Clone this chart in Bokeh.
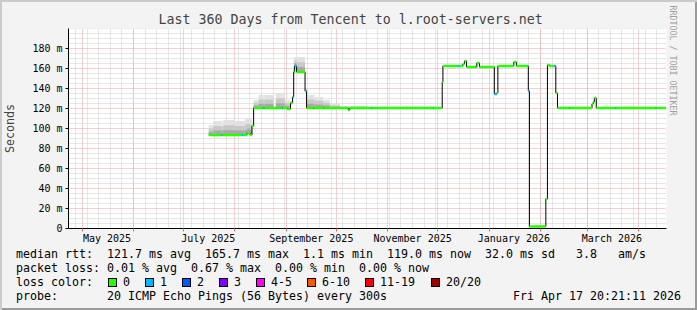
import numpy as np
import pandas as pd
from bokeh.plotting import figure
from bokeh.layouts import column
from bokeh.models import Range1d, FixedTicker, CustomJSTickFormatter, Title, Div
from bokeh.embed import file_html
from bokeh.resources import INLINE

FONT = "DejaVu Sans Mono"

# ---------------- data ----------------
title_text = "Last 360 Days from Tencent to l.root-servers.net"
t_start = "2025-04-22 20:21:11"
t_end = "2026-04-17 20:21:11"

# median rtt (ms) as steps: start of each step, value, loss bin index
median_start = [
    "2025-07-16 07:00", "2025-07-24 00:00", "2025-07-24 14:00", "2025-08-05 06:00", "2025-08-05 20:00",
    "2025-08-08 07:00", "2025-08-10 03:00", "2025-08-11 07:00", "2025-08-12 07:00", "2025-08-18 06:00",
    "2025-08-18 20:00", "2025-08-29 06:00", "2025-08-29 20:00", "2025-09-01 12:00", "2025-09-03 12:00",
    "2025-09-04 18:00", "2025-09-05 10:00", "2025-09-06 00:00", "2025-09-07 04:00", "2025-09-12 06:00",
    "2025-09-13 04:00", "2025-09-17 04:00", "2025-09-17 18:00", "2025-09-23 04:00", "2025-09-23 18:00",
    "2025-10-08 06:00", "2025-10-09 06:00", "2025-10-22 04:00", "2025-10-22 18:00", "2025-11-28 06:00",
    "2025-11-28 20:00", "2025-12-03 20:00", "2025-12-04 06:00", "2025-12-13 06:00", "2025-12-13 20:00",
    "2025-12-16 06:00", "2025-12-17 06:00", "2025-12-18 12:00", "2025-12-23 20:00", "2025-12-24 10:00",
    "2025-12-24 16:00", "2025-12-26 06:00", "2026-01-04 05:00", "2026-01-05 16:00", "2026-01-06 08:00",
    "2026-01-15 22:00", "2026-01-17 12:00", "2026-01-24 16:00", "2026-01-25 08:00", "2026-02-04 05:00",
    "2026-02-05 04:00", "2026-02-06 12:00", "2026-02-09 05:00", "2026-02-10 05:00", "2026-02-11 05:00",
    "2026-02-18 04:00", "2026-02-18 18:00", "2026-03-04 00:00", "2026-03-04 19:00", "2026-03-05 10:00",
    "2026-03-06 14:00", "2026-03-18 02:00", "2026-03-18 16:00", "2026-04-11 04:00", "2026-04-11 18:00"]
median_ms = [
    93, 93, 93, 93, 93,
    95, 93, 102, 120, 120,
    120, 120, 120, 119, 125,
    131, 156, 162, 156, 137,
    120, 120, 120, 120, 120,
    118, 120, 120, 120, 120,
    120, 146, 162, 162, 162,
    164, 167, 161, 161, 161,
    165, 161, 134, 135, 162,
    166, 162, 137, 1.5, 29,
    163, 162, 162, 135, 120,
    120, 120, 124, 126, 130,
    120, 120, 120, 120, 120]
median_loss = [
    0, 1, 0, 1, 0,
    0, 0, 0, 0, 1,
    0, 1, 0, 0, 0,
    1, 0, 1, 0, 1,
    0, 1, 0, 1, 0,
    0, 0, 1, 0, 1,
    0, 0, 0, 1, 0,
    0, 0, 0, 1, 0,
    0, 0, 1, 0, 0,
    0, 0, 1, 0, 0,
    0, 0, 1, 0, 0,
    1, 0, 0, 0, 0,
    0, 1, 0, 1, 0]
median_last = "2026-04-17 14:00"

# smoke (spread of the pings): top of the smoke per step
smoke_start = [
    "2025-07-16 07:00", "2025-07-19 00:00", "2025-07-25 00:00", "2025-08-01 00:00", "2025-08-07 00:00",
    "2025-08-11 07:00", "2025-08-12 07:00", "2025-08-15 07:00", "2025-08-24 07:00", "2025-08-25 16:00",
    "2025-08-31 00:00", "2025-09-03 00:00", "2025-09-05 10:00", "2025-09-12 06:00", "2025-09-13 04:00",
    "2025-09-18 04:00", "2025-09-23 04:00", "2025-09-27 04:00", "2025-10-03 04:00", "2025-10-20 00:00"]
smoke_top_ms = [
    103, 107, 108, 107, 109,
    np.nan, 128, 133, np.nan, 135,
    128, 127, 171, 140, 133,
    131, 128, 124, 122, np.nan]

loss_labels = ["0", "1", "2", "3", "4-5", "6-10", "11-19", "20/20"]
loss_colors = ["#26ff00", "#00b8ff", "#0059ff", "#7e00ff", "#ff00ff", "#ff5500", "#ff0000", "#a10000"]

y_ticks = [0, 20, 40, 60, 80, 100, 120, 140, 160, 180]
month_starts = list(pd.date_range("2025-05-01", "2026-04-01", freq="MS").strftime("%Y-%m-%d"))
labelled_months = ["2025-05-01", "2025-07-01", "2025-09-01", "2025-11-01", "2026-01-01", "2026-03-01"]
week_starts = list(pd.date_range("2025-04-27", "2026-04-12", freq="7D").strftime("%Y-%m-%d"))

rtt_head = "median rtt:"
rtt_texts = ["121.7 ms avg", "165.7 ms max", "1.1 ms min", "119.0 ms now", "32.0 ms sd", "3.8", "am/s"]
loss_head = "packet loss:"
loss_texts = ["0.01 % avg", "0.67 % max", "0.00 % min", "0.00 % now"]
color_head = "loss color:"
probe_head = "probe:"
probe_text = "20 ICMP Echo Pings (56 Bytes) every 300s"
stamp_text = "Fri Apr 17 20:21:11 2026"
credit_text = "RRDTOOL / TOBI OETIKER"
y_title = "Seconds"

# ---------------- helpers ----------------
def ms(s):
    return pd.Timestamp(s).value / 1e6


W, H = 697, 310
H1 = 246                       # chart part; legend block below it
FL, FT, FR, FB = 66, 28, 666, 228
BG = "#f3f3f3"

x0, x1 = ms(t_start), ms(t_end)

p = figure(width=W, height=H1, title=title_text, x_axis_type="datetime",
           x_range=Range1d(x0, x1), y_range=Range1d(-0.5, 199.5),
           output_backend="svg", toolbar_location=None,
           min_border_left=FL, min_border_right=W - FR,
           min_border_top=FT, min_border_bottom=H1 - FB,
           background_fill_color="white", border_fill_alpha=0,
           outline_line_color=None)

p.title.text_font = FONT
p.title.text_font_size = "13.3px"
p.title.text_font_style = "normal"
p.title.align = "left"
p.title.offset = 90
p.title.vertical_align = "bottom"
p.title.standoff = 2.5

p.add_layout(Title(text=credit_text, align="left", offset=-23, text_font=FONT,
                   text_font_size="8.3px", text_font_style="normal", text_color="#a0a0a0",
                   vertical_align="middle", standoff=0), "right")

# grids
p.xgrid.ticker = FixedTicker(ticks=[ms(d) for d in month_starts],
                             minor_ticks=[ms(d) for d in week_starts])
p.xgrid.grid_line_color = "#eaa0a0"
p.xgrid.grid_line_dash = "1 1"
p.xgrid.minor_grid_line_color = "#cfcfcf"
p.xgrid.minor_grid_line_dash = "1 1"

p.ygrid.ticker = FixedTicker(ticks=y_ticks[1:],
                             minor_ticks=[v for v in range(5, 201, 5) if v % 20 or v == 200])
p.ygrid.grid_line_color = "#eaa0a0"
p.ygrid.grid_line_dash = "1 1"
p.ygrid.minor_grid_line_color = "#cfcfcf"
p.ygrid.minor_grid_line_dash = "1 1"

# axes
label_pos = [ms(pd.Timestamp(d) + pd.Timedelta(days=15)) for d in labelled_months]
p.xaxis.ticker = FixedTicker(ticks=label_pos, minor_ticks=[ms(d) for d in month_starts])
p.xaxis.formatter = CustomJSTickFormatter(code="""
const n = ["January","February","March","April","May","June","July","August",
           "September","October","November","December"];
const d = new Date(tick);
return n[d.getUTCMonth()] + " " + d.getUTCFullYear();
""")
p.xaxis.major_tick_out = 0
p.xaxis.major_tick_in = 0
p.xaxis.minor_tick_out = 3
p.xaxis.minor_tick_in = 0
p.xaxis.minor_tick_line_color = "#e07070"
p.xaxis.major_label_standoff = 1
p.xaxis.axis_line_color = "black"

p.yaxis.ticker = FixedTicker(ticks=y_ticks)
p.yaxis.formatter = CustomJSTickFormatter(code='return tick == 0 ? "0" : tick + " m";')
p.yaxis.major_tick_out = 3
p.yaxis.major_tick_in = 0
p.yaxis.minor_tick_out = 0
p.yaxis.minor_tick_in = 0
p.yaxis.major_label_standoff = 3
p.yaxis.axis_line_color = "black"
p.yaxis.axis_label = y_title
p.yaxis.axis_label_text_font = FONT
p.yaxis.axis_label_text_font_size = "11.7px"
p.yaxis.axis_label_text_font_style = "normal"
p.yaxis.axis_label_standoff = 12

for ax in (p.xaxis, p.yaxis):
    ax.major_label_text_font = FONT
    ax.major_label_text_font_size = "10px"
    ax.major_label_text_color = "black"

# ---------------- smoke ----------------
m_left = [ms(s) for s in median_start]
m_right = m_left[1:] + [ms(median_last)]
s_left = [ms(s) for s in smoke_start]
s_right = s_left[1:] + [s_left[-1]]

pieces = []  # (left, right, bottom, top)
for sl, sr, top in zip(s_left, s_right, smoke_top_ms):
    if np.isnan(top):
        continue
    for ml, mr, mv in zip(m_left, m_right, median_ms):
        a, b = max(sl, ml), min(sr, mr)
        if b > a and top > mv:
            pieces.append((a, b, mv, top))

for frac, col in [(1.0, "#e2e2e2"), (0.65, "#c8c8c8"), (0.32, "#a9a9a9")]:
    p.quad(left=[q[0] for q in pieces], right=[q[1] for q in pieces],
           bottom=[q[2] for q in pieces],
           top=[q[2] + frac * (q[3] - q[2]) for q in pieces],
           fill_color=col, line_color=None)

# ---------------- median ----------------
p.step(x=m_left + [m_right[-1]], y=median_ms + [median_ms[-1]], mode="after",
       line_color="black", line_width=1)
p.quad(left=m_left, right=m_right,
       bottom=[v - 1.2 for v in median_ms], top=[v + 1.2 for v in median_ms],
       fill_color=[loss_colors[i] for i in median_loss], line_color=None)

# ---------------- legend block below the chart ----------------
H2 = H - H1
CW, LX = 7.0, 16
row_centres = [254 - H1, 268 - H1, 282 - H1, 296 - H1]
LINE = 14


def span(x, yc, text, extra=""):
    return ('<span style="position:absolute;left:%.1fpx;top:%.1fpx;white-space:pre;%s">%s</span>'
            % (x, yc - LINE / 2, extra, text))


parts = [span(LX, row_centres[0], rtt_head)]
parts += [span(LX + c * CW, row_centres[0], t) for c, t in zip([13, 27, 41, 53, 67, 80, 86], rtt_texts)]
parts += [span(LX, row_centres[1], loss_head)]
parts += [span(LX + c * CW, row_centres[1], t) for c, t in zip([13, 25, 37, 49], loss_texts)]
parts += [span(LX, row_centres[2], color_head)]
box_left = [108, 145, 182, 219, 256, 307, 365, 431]
for bl, lab, col in zip(box_left, loss_labels, loss_colors):
    parts.append('<span style="position:absolute;left:%dpx;top:%.1fpx;width:9px;height:9px;'
                 'box-sizing:border-box;border:1px solid #000;background:%s"></span>'
                 % (bl, row_centres[2] - 4.5, col))
    parts.append(span(bl + 15, row_centres[2], lab))
parts += [span(LX, row_centres[3], probe_head), span(LX + 13 * CW, row_centres[3], probe_text)]
parts.append('<span style="position:absolute;right:%dpx;top:%.1fpx;white-space:pre">%s</span>'
             % (W - 681, row_centres[3] - LINE / 2, stamp_text))

html = ('<div style="position:relative;width:%dpx;height:%dpx;font-family:\'%s\';'
        'font-size:11.63px;line-height:%dpx;color:#000">%s</div>'
        % (W, H2, FONT, LINE, "".join(parts)))
legend_block = Div(text=html, width=W, height=H2, margin=0)

page = column(p, legend_block, spacing=0,
              styles={"background-color": BG,
                      "box-shadow": "inset 2px 2px 0 #cbcbcb, inset -2px -2px 0 #9a9a9a"})

open("out.html", "w").write(file_html(page, INLINE))
